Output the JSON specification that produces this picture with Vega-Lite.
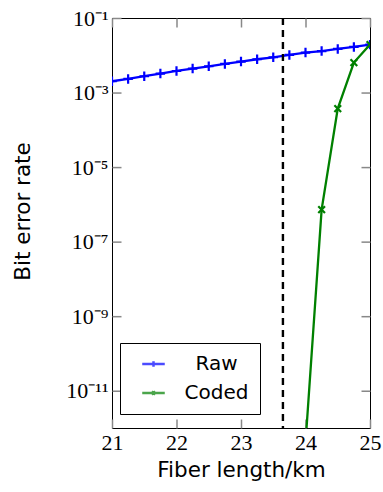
{
  "$schema": "https://vega.github.io/schema/vega-lite/v6.json",
  "width": 258,
  "height": 410,
  "autosize": "none",
  "padding": {"left": 112, "top": 18, "right": 13, "bottom": 64},
  "background": "white",
  "datasets": {
    "ber": [
      {"length": 21.0, "ber": 0.00201, "series": "Raw"},
      {"length": 21.25, "ber": 0.00232, "series": "Raw"},
      {"length": 21.5, "ber": 0.00274, "series": "Raw"},
      {"length": 21.75, "ber": 0.00323, "series": "Raw"},
      {"length": 22.0, "ber": 0.00379, "series": "Raw"},
      {"length": 22.25, "ber": 0.0044, "series": "Raw"},
      {"length": 22.5, "ber": 0.00507, "series": "Raw"},
      {"length": 22.75, "ber": 0.00585, "series": "Raw"},
      {"length": 23.0, "ber": 0.00678, "series": "Raw"},
      {"length": 23.25, "ber": 0.00782, "series": "Raw"},
      {"length": 23.5, "ber": 0.00884, "series": "Raw"},
      {"length": 23.75, "ber": 0.0102, "series": "Raw"},
      {"length": 24.0, "ber": 0.0118, "series": "Raw"},
      {"length": 24.25, "ber": 0.013, "series": "Raw"},
      {"length": 24.5, "ber": 0.0148, "series": "Raw"},
      {"length": 24.75, "ber": 0.0167, "series": "Raw"},
      {"length": 25.0, "ber": 0.0193, "series": "Raw"},
      {"length": 24.0, "ber": 4e-13, "series": "Coded"},
      {"length": 24.25, "ber": 7.2e-7, "series": "Coded"},
      {"length": 24.5, "ber": 0.00037, "series": "Coded"},
      {"length": 24.75, "ber": 0.00637, "series": "Coded"},
      {"length": 25.0, "ber": 0.0193, "series": "Coded"}
    ],
    "threshold": [{"x": 23.65}]
  },
  "layer": [
    {
      "data": {"name": "ber"},
      "mark": {"type": "line", "strokeWidth": 2.3, "clip": true},
      "encoding": {
        "x": {
          "field": "length", "type": "quantitative",
          "scale": {"domain": [21, 25], "nice": false, "zero": false},
          "axis": {"orient": "bottom", "offset": -9, "title": "Fiber length/km", "values": [21, 22, 23, 24, 25], "format": "d", "labelPadding": 4, "titlePadding": 6}
        },
        "y": {
          "field": "ber", "type": "quantitative",
          "scale": {"type": "log", "domain": [1e-12, 0.1], "nice": false},
          "axis": {
            "orient": "left", "offset": -9, "title": "Bit error rate",
            "values": [1e-11, 1e-9, 1e-7, 1e-5, 1e-3, 0.1],
            "labelExpr": "round(log(datum.value)/LN10) == -11 ? '10⁻¹¹' : round(log(datum.value)/LN10) == -9 ? '10⁻⁹' : round(log(datum.value)/LN10) == -7 ? '10⁻⁷' : round(log(datum.value)/LN10) == -5 ? '10⁻⁵' : round(log(datum.value)/LN10) == -3 ? '10⁻³' : '10⁻¹'",
            "labelPadding": 4, "titleX": -87, "titleY": 193
          }
        },
        "color": {
          "field": "series", "type": "nominal",
          "scale": {"domain": ["Raw", "Coded"], "range": ["#0000ff", "#008000"]},
          "legend": {
            "orient": "none", "legendX": 8, "legendY": 325, "title": null,
            "labelFont": "DejaVu Sans", "labelFontSize": 20, "labelColor": "black",
            "labelAlign": "center", "labelOffset": 53,
            "symbolSize": 127, "symbolOffset": 12.5, "symbolStrokeWidth": 2.5, "symbolOpacity": 1,
            "fillColor": "white", "strokeColor": "black", "padding": 11, "rowPadding": 9, "cornerRadius": 0
          }
        }
      }
    },
    {
      "data": {"name": "ber"},
      "transform": [{"filter": "datum.series === 'Raw'"}],
      "mark": {"type": "point", "filled": false, "strokeWidth": 2.2, "size": 90, "opacity": 1, "clip": true, "color": "#0000ff", "shape": "M-1,0H1M0,-1V1"},
      "encoding": {
        "x": {"field": "length", "type": "quantitative", "axis": null},
        "y": {
          "field": "ber", "type": "quantitative",
          "axis": {"orient": "right", "offset": -9, "title": null, "labels": false, "values": [1e-11, 1e-9, 1e-7, 1e-5, 1e-3, 0.1]}
        }
      }
    },
    {
      "data": {"name": "ber"},
      "transform": [{"filter": "datum.series === 'Coded'"}],
      "mark": {"type": "point", "filled": false, "strokeWidth": 2.2, "size": 80, "opacity": 1, "clip": true, "color": "#008000", "shape": "M-0.75,-0.75L0.75,0.75M-0.75,0.75L0.75,-0.75"},
      "encoding": {
        "x": {"field": "length", "type": "quantitative", "axis": null},
        "y": {"field": "ber", "type": "quantitative", "axis": null}
      }
    },
    {
      "data": {"name": "ber"},
      "transform": [{"filter": "false"}],
      "mark": {"type": "point", "filled": false, "strokeWidth": 2.5, "clip": true},
      "encoding": {
        "x": {"field": "length", "type": "quantitative", "axis": null},
        "y": {"field": "ber", "type": "quantitative", "axis": null},
        "color": {"field": "series", "type": "nominal"},
        "shape": {
          "field": "series", "type": "nominal",
          "scale": {"domain": ["Raw", "Coded"], "range": ["M-2,0H2M0,-0.5V0.5", "M-2,0H2M-0.3,-0.3L0.3,0.3M-0.3,0.3L0.3,-0.3"]},
          "legend": null
        }
      }
    },
    {
      "data": {"name": "threshold"},
      "mark": {"type": "rule", "color": "black", "strokeWidth": 2.4, "strokeDash": [7, 5]},
      "encoding": {
        "x": {
          "field": "x", "type": "quantitative",
          "axis": {"orient": "top", "offset": -9, "title": null, "labels": false, "values": [21, 22, 23, 24, 25]}
        }
      }
    }
  ],
  "resolve": {"axis": {"x": "independent", "y": "independent"}},
  "config": {
    "view": {"stroke": "black", "strokeWidth": 1},
    "axis": {
      "grid": false, "domain": false, "ticks": true, "tickColor": "#888888", "tickSize": 9, "tickWidth": 1.5, "tickRound": false, "tickOpacity": 1, "zindex": 1,
      "labelFlush": false, "labelOverlap": false,
      "labelFont": "Liberation Serif", "labelFontSize": 22, "labelColor": "black",
      "titleFont": "DejaVu Sans", "titleFontSize": 21.5, "titleFontWeight": "normal", "titleColor": "black"
    }
  }
}
